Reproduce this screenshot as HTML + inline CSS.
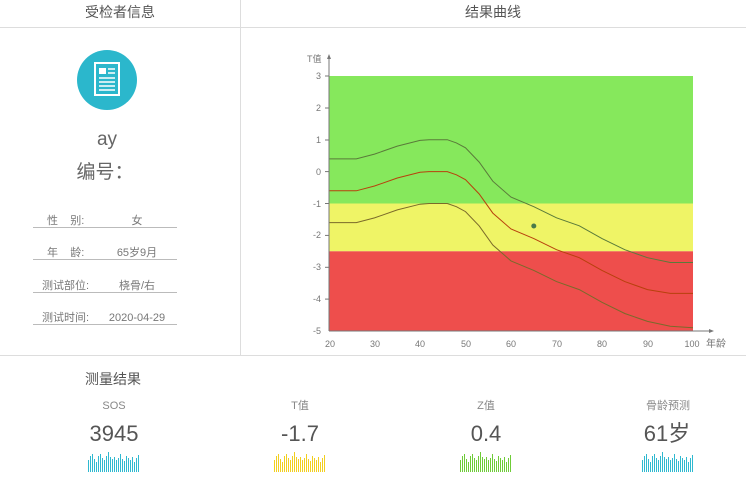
<!DOCTYPE html><html><head><meta charset="utf-8"><style>
body{margin:0;width:746px;height:479px;background:#fff;font-family:"Liberation Sans","Noto Sans CJK SC",sans-serif;position:relative;overflow:hidden;color:#555}
.a{position:absolute;white-space:nowrap;line-height:1}
.m{position:absolute;white-space:nowrap;line-height:1;width:200px;margin-left:-100px;text-align:center}
.row{position:absolute;left:33px;width:144px;border-bottom:1px solid #bbb;font-size:11px;color:#777;height:13px}
.row span{position:absolute;top:1px;line-height:12px;white-space:nowrap}
.v{width:100px;left:54px;text-align:center}
</style></head><body>
<div class="a" style="left:0;top:27px;width:746px;height:1px;background:#ddd"></div>
<div class="a" style="left:240px;top:0;width:1px;height:355px;background:#ddd"></div>
<div class="a" style="left:0;top:355px;width:746px;height:1px;background:#ddd"></div>
<div class="m" style="left:120px;top:5px;font-size:14px;color:#555">受检者信息</div>
<div class="m" style="left:493px;top:5px;font-size:14px;color:#555">结果曲线</div>
<svg class="a" style="left:77px;top:50px" width="60" height="60"><circle cx="30" cy="30" r="30" fill="#2bb7cc"/><rect x="18" y="13" width="24" height="32" fill="none" stroke="#fff" stroke-width="2"/><rect x="22" y="18" width="7" height="6" fill="#fff"/><g stroke="#fff" stroke-width="1.5"><line x1="31" y1="19" x2="38" y2="19"/><line x1="31" y1="23" x2="38" y2="23"/><line x1="22" y1="28" x2="38" y2="28"/><line x1="22" y1="32" x2="38" y2="32"/><line x1="22" y1="36" x2="38" y2="36"/><line x1="22" y1="40" x2="38" y2="40"/></g></svg>
<div class="m" style="left:107px;top:130px;font-size:19px;color:#666">ay</div>
<div class="m" style="left:105px;top:163px;font-size:19px;color:#666">编号：</div>
<div class="row" style="top:214px"><span style="left:14px">性&nbsp;&nbsp;&nbsp;&nbsp;别:</span><span class="v">女</span></div>
<div class="row" style="top:246px"><span style="left:14px">年&nbsp;&nbsp;&nbsp;&nbsp;龄:</span><span class="v">65岁9月</span></div>
<div class="row" style="top:279px"><span style="left:9px">测试部位:</span><span class="v">桡骨/右</span></div>
<div class="row" style="top:311px"><span style="left:9px">测试时间:</span><span class="v">2020-04-29</span></div>
<svg class="a" style="left:0;top:0" width="746" height="355" font-size="9" fill="#777">
<rect x="329" y="76" width="364" height="127.5" fill="#86e85c"/>
<rect x="329" y="203.5" width="364" height="47.8" fill="#eff466"/>
<rect x="329" y="251.3" width="364" height="79.7" fill="#ee4e4c"/>
<g fill="none" stroke-width="1">
<polyline stroke="#5a7a3a" points="329,158.9 356.3,158.9 374.5,154.1 397.3,146.1 420,140.4 429.1,139.7 447.3,139.7 456.4,142.9 465.5,147.8 479.2,162.1 492.8,181.2 511,197.1 533.8,206.7 556.5,217.8 579.3,225.8 602,238.6 624.8,249.7 647.5,257.7 670.3,262.5 693,262.5"/>
<polyline stroke="#b8400c" points="329,190.8 356.3,190.8 374.5,186 397.3,178 420,172.3 429.1,171.6 447.3,171.6 456.4,174.8 465.5,179.7 479.2,194 492.8,213.1 511,229 533.8,238.6 556.5,249.7 579.3,257.7 602,270.4 624.8,281.6 647.5,289.6 670.3,293.4 693,293.4"/>
<polyline stroke="#7a6a2a" points="329,222.6 356.3,222.6 374.5,217.9 397.3,209.9 420,204.2 429.1,203.5 447.3,203.5 456.4,206.7 465.5,211.6 479.2,225.9 492.8,245 511,260.9 533.8,270.4 556.5,281.6 579.3,289.6 602,302.3 624.8,313.5 647.5,321.4 670.3,326.2 693,327.8"/>
</g>
<circle cx="533.8" cy="226" r="2.5" fill="#4a7a4a"/>
<g stroke="#777"><line x1="329" y1="56" x2="329" y2="331"/><line x1="329" y1="331" x2="712" y2="331"/>
<line x1="325" y1="76" x2="329" y2="76"/><line x1="325" y1="108" x2="329" y2="108"/><line x1="325" y1="140" x2="329" y2="140"/><line x1="325" y1="171.6" x2="329" y2="171.6"/><line x1="325" y1="203.5" x2="329" y2="203.5"/><line x1="325" y1="235.4" x2="329" y2="235.4"/><line x1="325" y1="267.3" x2="329" y2="267.3"/><line x1="325" y1="299.1" x2="329" y2="299.1"/>
</g>
<path d="M329,54 l-2,5 h4z M714,331 l-5,-2 v4z" fill="#777"/>
<text x="307" y="62">T值</text>
<g text-anchor="end"><text x="321" y="79">3</text><text x="321" y="111">2</text><text x="321" y="143">1</text><text x="321" y="175">0</text><text x="321" y="207">-1</text><text x="321" y="238">-2</text><text x="321" y="270">-3</text><text x="321" y="302">-4</text><text x="321" y="334">-5</text></g>
<g text-anchor="middle"><text x="330" y="347">20</text><text x="375" y="347">30</text><text x="420" y="347">40</text><text x="466" y="347">50</text><text x="511" y="347">60</text><text x="557" y="347">70</text><text x="602" y="347">80</text><text x="648" y="347">90</text><text x="692" y="347">100</text></g>
<text x="706" y="347" font-size="10">年龄</text>
</svg>
<div class="a" style="left:85px;top:372px;font-size:14px;color:#555">测量结果</div>
<div class="m" style="left:114px;top:401px;font-size:11px;color:#888">SOS</div>
<div class="m" style="left:300px;top:401px;font-size:11px;color:#888">T值</div>
<div class="m" style="left:486px;top:401px;font-size:11px;color:#888">Z值</div>
<div class="m" style="left:668px;top:401px;font-size:11px;color:#888">骨龄预测</div>
<div class="m" style="left:114px;top:423px;font-size:22px;color:#555">3945</div>
<div class="m" style="left:300px;top:423px;font-size:22px;color:#555">-1.7</div>
<div class="m" style="left:486px;top:423px;font-size:22px;color:#555">0.4</div>
<div class="m" style="left:667px;top:423px;font-size:22px;color:#555">61岁</div>
<svg class="a" style="left:0;top:450px" width="746" height="25" shape-rendering="crispEdges">
<defs><g id="w"><path d="M0.5,10v12M2.5,6v16M4.5,4v18M6.5,9v13M8.5,12v10M10.5,6v16M12.5,4v18M14.5,8v14M16.5,10v12M18.5,6v16M20.5,2v20M22.5,7v15M24.5,9v13M26.5,7v15M28.5,10v12M30.5,8v14M32.5,4v18M34.5,9v13M36.5,11v11M38.5,6v16M40.5,8v14M42.5,10v12M44.5,7v15M46.5,12v10M48.5,8v14M50.5,5v17" stroke-width="1"/></g></defs>
<use href="#w" x="88" stroke="#2fb9d0"/>
<use href="#w" x="274" stroke="#f2cf20"/>
<use href="#w" x="460" stroke="#6fcc38"/>
<use href="#w" x="642" stroke="#2fb9d0"/>
</svg>
</body></html>
